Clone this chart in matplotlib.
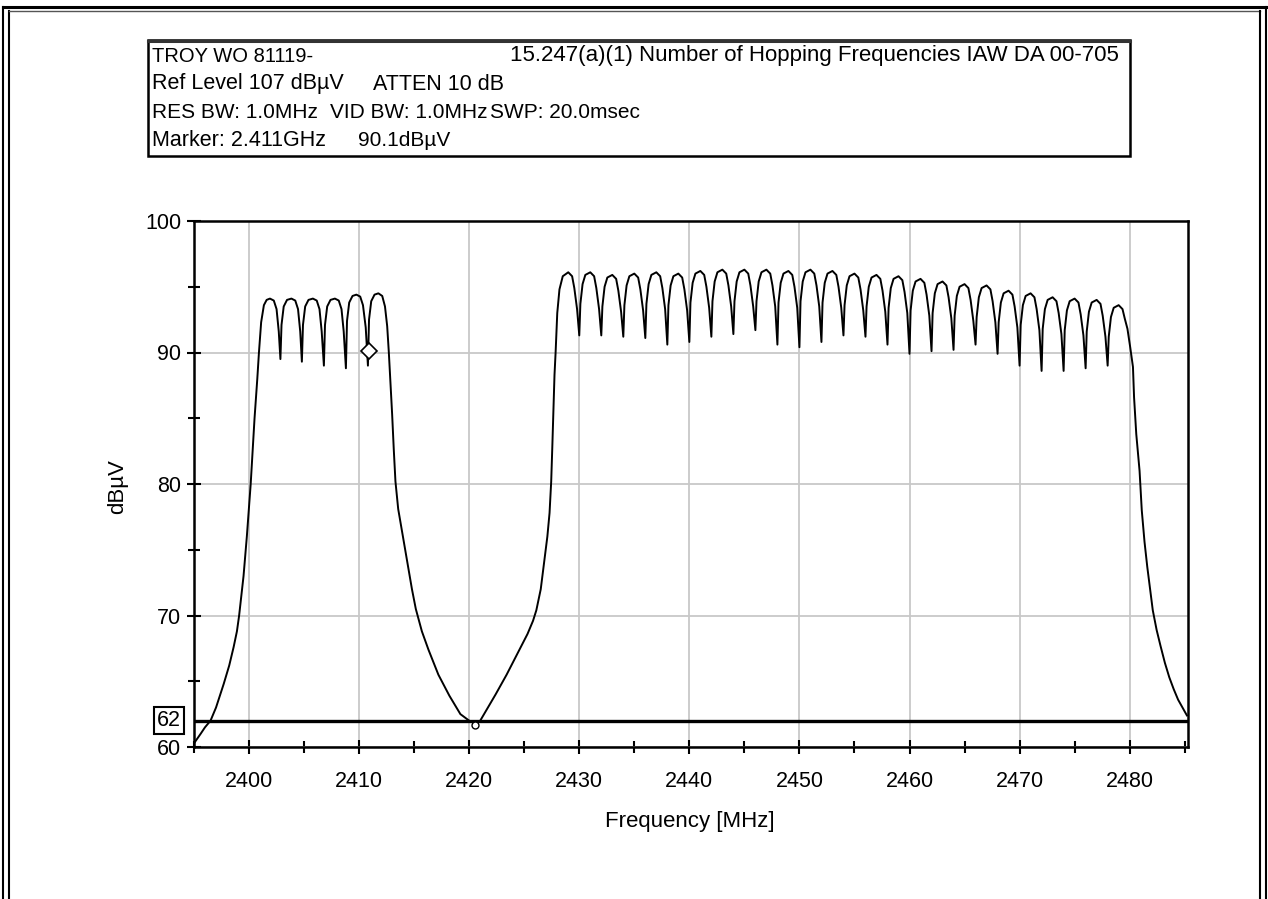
import matplotlib
matplotlib.use("Agg")
import matplotlib.pyplot as plt
from matplotlib.patches import Rectangle

plt.rcParams['font.family'] = ['Liberation Sans', 'DejaVu Sans']

# header text of the analyser printout
header_title = "TROY WO 81119-"
header_test = "15.247(a)(1) Number of Hopping Frequencies IAW DA 00-705"
header_ref = ["Ref Level 107 dB\u00b5V", "ATTEN 10 dB"]
header_bw = ["RES BW: 1.0MHz", "VID BW: 1.0MHz", "SWP: 20.0msec"]
header_marker = ["Marker: 2.411GHz", "90.1dB\u00b5V"]

x_label = "Frequency [MHz]"
y_label = "dB\u00b5V"

limit_level = 62
marker_pt = (2410.9, 90.1)
min_pt = (2420.5, 61.7)

# trace: (MHz, dBuV)
left_skirt = [(2395.1, 60.4), (2395.6, 61.0), (2396.0, 61.5), (2396.5, 62.0),
              (2397.0, 63.0), (2397.7, 64.8), (2398.2, 66.2), (2398.6, 67.6),
              (2398.9, 68.8), (2399.1, 70.0), (2399.5, 73.0), (2399.8, 76.0), (2400.15, 80.0),
              (2400.5, 85.0), (2400.75, 88.0), (2400.9, 90.0), (2401.1, 92.3),
              (2401.35, 93.6)]

band1 = [(2401.6, 94.0), (2401.9, 94.1), (2402.25, 93.95), (2402.5, 93.3), (2402.7, 91.6), (2402.85, 89.5),
         (2402.95, 92.1), (2403.15, 93.5), (2403.45, 94.0), (2403.85, 94.1), (2404.2, 93.95), (2404.45, 93.3), (2404.65, 91.6), (2404.8, 89.3),
         (2404.9, 92.1), (2405.1, 93.5), (2405.4, 94.0), (2405.8, 94.1), (2406.15, 93.95), (2406.4, 93.3), (2406.6, 91.6), (2406.8, 89.0),
         (2406.9, 92.1), (2407.1, 93.5), (2407.4, 94.0), (2407.8, 94.1), (2408.15, 93.95), (2408.4, 93.3), (2408.6, 91.6), (2408.8, 88.8),
         (2408.9, 92.4), (2409.1, 93.8), (2409.4, 94.3), (2409.75, 94.4), (2410.1, 94.25), (2410.35, 93.6), (2410.6, 91.9), (2410.8, 89.0),
         (2410.9, 92.5), (2411.1, 93.9), (2411.4, 94.4), (2411.75, 94.5), (2412.1, 94.3), (2412.35, 93.5), (2412.55, 92.0)]

valley = [(2412.7, 90.0), (2412.85, 87.6), (2413.0, 85.3), (2413.15, 82.6), (2413.3, 80.2),
          (2413.55, 78.1), (2413.9, 76.4), (2414.4, 74.0), (2414.8, 72.0),
          (2415.15, 70.5), (2415.7, 68.8), (2416.3, 67.4), (2417.2, 65.5), (2418.2, 63.9), (2419.2, 62.5),
          (2420.0, 62.0), (2420.5, 61.8), (2421.0, 62.0), (2421.7, 63.0), (2422.4, 64.0),
          (2423.4, 65.5), (2424.5, 67.3), (2425.3, 68.6), (2425.8, 69.6), (2426.1, 70.4),
          (2426.5, 72.0), (2426.8, 74.0), (2427.1, 76.0), (2427.3, 77.8), (2427.45, 80.2),
          (2427.55, 82.8), (2427.75, 88.3), (2427.85, 90.0), (2428.0, 93.0),
          (2428.2, 94.8), (2428.5, 95.8)]

band2 = [(2429.0, 96.1), (2429.35, 95.8), (2429.55, 94.9), (2429.8, 93.3), (2430.0, 91.3),
         (2430.1, 93.7), (2430.3, 95.2), (2430.55, 95.9), (2431.0, 96.1), (2431.35, 95.8), (2431.55, 94.9), (2431.8, 93.3), (2432.0, 91.3),
         (2432.1, 93.5), (2432.3, 95.0), (2432.55, 95.7), (2433.0, 95.9), (2433.35, 95.6), (2433.55, 94.7), (2433.8, 93.1), (2434.0, 91.2),
         (2434.1, 93.6), (2434.3, 95.1), (2434.55, 95.8), (2435.0, 96.0), (2435.35, 95.7), (2435.55, 94.8), (2435.8, 93.2), (2436.0, 91.1),
         (2436.1, 93.7), (2436.3, 95.2), (2436.55, 95.9), (2437.0, 96.1), (2437.35, 95.8), (2437.55, 94.9), (2437.8, 93.3), (2438.0, 90.6),
         (2438.1, 93.6), (2438.3, 95.1), (2438.55, 95.8), (2439.0, 96.0), (2439.35, 95.7), (2439.55, 94.8), (2439.8, 93.2), (2440.0, 90.8),
         (2440.1, 93.8), (2440.3, 95.3), (2440.55, 96.0), (2441.0, 96.2), (2441.35, 95.9), (2441.55, 95.0), (2441.8, 93.4), (2442.0, 91.2),
         (2442.1, 93.9), (2442.3, 95.4), (2442.55, 96.1), (2443.0, 96.3), (2443.35, 96.0), (2443.55, 95.1), (2443.8, 93.5), (2444.0, 91.4),
         (2444.1, 93.9), (2444.3, 95.4), (2444.55, 96.1), (2445.0, 96.3), (2445.35, 96.0), (2445.55, 95.1), (2445.8, 93.5), (2446.0, 91.7),
         (2446.1, 93.9), (2446.3, 95.4), (2446.55, 96.1), (2447.0, 96.3), (2447.35, 96.0), (2447.55, 95.1), (2447.8, 93.5), (2448.0, 90.6),
         (2448.1, 93.8), (2448.3, 95.3), (2448.55, 96.0), (2449.0, 96.2), (2449.35, 95.9), (2449.55, 95.0), (2449.8, 93.4), (2450.0, 90.4),
         (2450.1, 93.9), (2450.3, 95.4), (2450.55, 96.1), (2451.0, 96.3), (2451.35, 96.0), (2451.55, 95.1), (2451.8, 93.5), (2452.0, 90.8),
         (2452.1, 93.8), (2452.3, 95.3), (2452.55, 96.0), (2453.0, 96.2), (2453.35, 95.9), (2453.55, 95.0), (2453.8, 93.4), (2454.0, 91.3),
         (2454.1, 93.6), (2454.3, 95.1), (2454.55, 95.8), (2455.0, 96.0), (2455.35, 95.7), (2455.55, 94.8), (2455.8, 93.2), (2456.0, 91.2),
         (2456.1, 93.5), (2456.3, 95.0), (2456.55, 95.7), (2457.0, 95.9), (2457.35, 95.6), (2457.55, 94.7), (2457.8, 93.1), (2458.0, 90.6),
         (2458.1, 93.4), (2458.3, 94.9), (2458.55, 95.6), (2459.0, 95.8), (2459.35, 95.5), (2459.55, 94.6), (2459.8, 93.0), (2460.0, 89.9),
         (2460.1, 93.2), (2460.3, 94.7), (2460.55, 95.4), (2461.0, 95.6), (2461.35, 95.3), (2461.55, 94.4), (2461.8, 92.8), (2462.0, 90.1),
         (2462.1, 93.0), (2462.3, 94.5), (2462.55, 95.2), (2463.0, 95.4), (2463.35, 95.1), (2463.55, 94.2), (2463.8, 92.6), (2464.0, 90.2),
         (2464.1, 92.8), (2464.3, 94.3), (2464.55, 95.0), (2465.0, 95.2), (2465.35, 94.9), (2465.55, 94.0), (2465.8, 92.4), (2466.0, 90.6),
         (2466.1, 92.7), (2466.3, 94.2), (2466.55, 94.9), (2467.0, 95.1), (2467.35, 94.8), (2467.55, 93.9), (2467.8, 92.3), (2468.0, 89.9),
         (2468.1, 92.3), (2468.3, 93.8), (2468.55, 94.5), (2469.0, 94.7), (2469.35, 94.4), (2469.55, 93.5), (2469.8, 91.9), (2470.0, 89.0),
         (2470.1, 92.1), (2470.3, 93.6), (2470.55, 94.3), (2471.0, 94.5), (2471.35, 94.2), (2471.55, 93.3), (2471.8, 91.7), (2472.0, 88.6),
         (2472.1, 91.8), (2472.3, 93.3), (2472.55, 94.0), (2473.0, 94.2), (2473.35, 93.9), (2473.55, 93.0), (2473.8, 91.4), (2474.0, 88.6),
         (2474.1, 91.7), (2474.3, 93.2), (2474.55, 93.9), (2475.0, 94.1), (2475.35, 93.8), (2475.55, 92.9), (2475.8, 91.3), (2476.0, 88.8),
         (2476.1, 91.6), (2476.3, 93.1), (2476.55, 93.8), (2477.0, 94.0), (2477.35, 93.7), (2477.55, 92.8), (2477.8, 91.2), (2478.0, 89.0),
         (2478.1, 91.2), (2478.3, 92.7), (2478.55, 93.4), (2479.0, 93.6), (2479.35, 93.3), (2479.55, 92.6)]

right_skirt = [(2479.8, 91.8), (2480.05, 90.4), (2480.3, 88.9), (2480.4, 86.6), (2480.6, 83.8),
               (2480.9, 81.0), (2481.1, 78.0), (2481.35, 75.6), (2481.6, 73.7), (2482.1, 70.4),
               (2482.45, 68.9), (2482.8, 67.7), (2483.2, 66.4), (2483.6, 65.3), (2484.0, 64.4),
               (2484.4, 63.6), (2485.2, 62.4)]

W, H = 1268, 899
fig = plt.figure(figsize=(W / 100, H / 100), dpi=100)

# pixel space overlay for the printout frame and header box
bg = fig.add_axes([0, 0, 1, 1])
bg.set_xlim(0, W)
bg.set_ylim(H, 0)
bg.axis('off')

bg.plot([3, 1266], [7, 7], color='black', lw=2.2)
bg.plot([3, 3], [7, H], color='black', lw=1.5)
bg.plot([9, 9], [11, H], color='black', lw=1.5)
bg.plot([9, 1260], [11, 11], color='#555555', lw=1.0)
bg.plot([1260, 1260], [11, H], color='black', lw=1.5)
bg.plot([1266, 1266], [7, H], color='black', lw=1.5)

bg.add_patch(Rectangle((148, 40), 982, 116, fill=False, ec='black', lw=1.8))
bg.plot([148, 1130], [41, 41], color='#333333', lw=2.2)
bg.text(152, 56, header_title, fontsize=14.5, va='center')
bg.text(510, 56, header_test, fontsize=16, va='center')
bg.text(152, 84, header_ref[0], fontsize=15.5, va='center')
bg.text(373, 84, header_ref[1], fontsize=15.5, va='center')
bg.text(152, 113, header_bw[0], fontsize=15, va='center')
bg.text(330, 113, header_bw[1], fontsize=15, va='center')
bg.text(490, 113, header_bw[2], fontsize=15, va='center')
bg.text(152, 141, header_marker[0], fontsize=15.5, va='center')
bg.text(358, 141, header_marker[1], fontsize=15, va='center')

bg.text(690, 822, x_label, fontsize=16, ha='center', va='center')
bg.text(118, 487, y_label, fontsize=16, ha='center', va='center', rotation=90)

# spectrum plot
ax = fig.add_axes([194 / W, 1 - 747 / H, (1188 - 194) / W, (747 - 221) / H])
trace = left_skirt + band1 + valley + band2 + right_skirt
freqs = [p[0] for p in trace]
levels = [p[1] for p in trace]
ax.plot(freqs, levels, color='black', lw=1.4, zorder=3)
ax.axhline(limit_level, color='black', lw=2.4, zorder=4)
ax.plot(*marker_pt, marker='D', ms=8, mfc='white', mec='black', mew=1.2, zorder=5)
ax.plot(*min_pt, marker='o', ms=5, mfc='white', mec='black', mew=1.0, zorder=5)

ax.set_xlim(2395, 2485.3)
ax.set_ylim(60, 100)
ax.set_xticks(range(2400, 2481, 10))
ax.set_xticks(range(2395, 2486, 5), minor=True)
ax.set_yticks([60, 70, 80, 90, 100])
ax.set_yticks([65, 75, 85, 95], minor=True)
ax.tick_params(which='both', direction='inout', color='black', width=1.5, labelsize=15.5)
ax.tick_params(which='major', length=10)
ax.tick_params(which='minor', length=8)
ax.tick_params(axis='x', pad=12)
ax.tick_params(axis='y', pad=4)
ax.grid(which='major', color='#c8c8c8', lw=1.3)
ax.set_axisbelow(True)
for s in ax.spines.values():
    s.set_linewidth(1.8)

ax.text(-0.013, limit_level, str(limit_level), transform=ax.get_yaxis_transform(),
        ha='right', va='center', fontsize=15.5,
        bbox=dict(boxstyle='square,pad=0.15', fc='white', ec='black', lw=1.5))

fig.savefig("out.png", dpi=100)
